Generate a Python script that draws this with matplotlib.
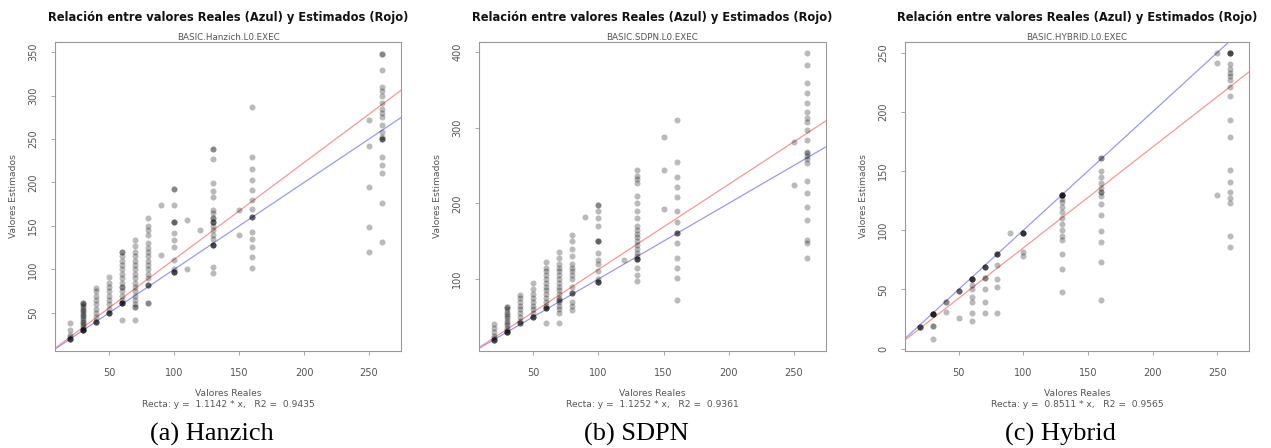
import matplotlib
matplotlib.use("Agg")
import matplotlib.pyplot as plt

# Estimated values grouped by real value (x), one dict per scheduler
hanzich_cols = {
    20: [20, 20, 20, 20, 22, 25, 30, 38],
    30: [30, 30, 30, 30, 30, 32, 34, 36, 38, 40, 42, 44, 46, 48, 50, 52, 54, 56, 58, 60, 62, 62],
    40: [40, 40, 40, 40, 45, 50, 55, 60, 65, 70, 75, 79],
    50: [50, 50, 50, 50, 55, 60, 65, 70, 75, 80, 85, 91],
    60: [42, 61, 61, 61, 61, 61, 65, 70, 75, 80, 80, 85, 90, 95, 100, 105, 110, 115, 120, 120],
    70: [42, 57, 57, 60, 65, 70, 75, 80, 85, 90, 95, 100, 105, 110, 115, 120, 127, 134],
    80: [61, 61, 82, 82, 82, 90, 95, 100, 105, 110, 115, 120, 125, 130, 140, 145, 150, 159],
    90: [117, 174],
    100: [97, 97, 97, 97, 100, 111, 126, 134, 142, 155, 155, 155, 174, 193, 193],
    110: [100, 157],
    120: [145],
    130: [96, 103, 128, 128, 128, 128, 135, 140, 145, 150, 155, 155, 155, 159, 159, 165, 168,
          183, 190, 199, 227, 238, 238],
    150: [140, 168],
    160: [102, 114, 126, 135, 143, 160, 160, 160, 170, 180, 191, 203, 215, 229, 287],
    250: [120, 149, 195, 242, 272],
    260: [132, 176, 211, 220, 229, 250, 250, 250, 252, 258, 266, 275, 280, 285, 291, 300, 305,
          310, 329, 348, 348],
}

sdpn_cols = {
    20: [20, 20, 20, 20, 22, 25, 30, 35, 40],
    30: [30, 30, 30, 30, 30, 33, 36, 39, 42, 45, 48, 51, 54, 57, 60, 63, 63],
    40: [42, 42, 42, 45, 50, 55, 60, 65, 70, 75, 79],
    50: [50, 50, 50, 50, 55, 60, 65, 70, 75, 80, 87, 95],
    60: [42, 62, 62, 62, 62, 65, 70, 75, 80, 85, 90, 95, 100, 105, 110, 115, 122],
    70: [42, 55, 60, 65, 70, 72, 72, 75, 80, 85, 90, 95, 100, 105, 110, 115, 120, 128, 136],
    80: [59, 65, 70, 81, 81, 81, 90, 100, 105, 110, 115, 120, 130, 140, 150, 158],
    90: [182],
    100: [96, 96, 96, 96, 100, 110, 120, 125, 135, 150, 150, 150, 170, 180, 190, 198, 198],
    120: [125],
    130: [97, 106, 115, 126, 126, 126, 126, 130, 135, 140, 145, 150, 155, 160, 165, 170, 180,
          190, 200, 210, 227, 232, 236, 244],
    150: [193, 244, 288],
    160: [72, 102, 115, 128, 147, 161, 161, 161, 175, 190, 208, 221, 235, 255, 310],
    250: [224, 281],
    260: [128, 147, 151, 178, 195, 213, 230, 253, 258, 262, 266, 268, 284, 297, 307, 313, 320,
          333, 346, 359, 383, 399],
}

hybrid_cols = {
    20: [18, 18, 18, 18],
    30: [8, 19, 19, 29, 29, 29, 29, 29, 29],
    40: [31, 39, 39],
    50: [26, 49, 49, 49],
    60: [23, 30, 39, 44, 50, 54, 59, 59, 59, 59, 59],
    70: [30, 39, 50, 60, 60, 69, 69, 69, 69],
    80: [30, 52, 59, 71, 80, 80, 80, 80],
    90: [98],
    100: [78, 82, 98, 98, 98, 98, 98],
    130: [48, 67, 80, 92, 95, 100, 105, 110, 115, 120, 124, 126, 130, 130, 130, 130, 130, 130],
    160: [41, 73, 90, 99, 113, 122, 129, 132, 132, 136, 140, 145, 150, 161, 161],
    250: [130, 241, 250],
    260: [86, 95, 123, 127, 132, 141, 151, 179, 193, 213, 221, 227, 230, 233, 236, 240, 250,
          250, 250, 250],
}

# Fitted slope (y = b * x) and R2 for each scheduler
slopes = [1.1142, 1.1252, 0.8511]
r2_values = [0.9435, 0.9361, 0.9565]
subtitles = ["BASIC.Hanzich.L0.EXEC", "BASIC.SDPN.L0.EXEC", "BASIC.HYBRID.L0.EXEC"]
captions = ["(a) Hanzich", "(b) SDPN", "(c) Hybrid"]
y_ticks = [[50, 100, 150, 200, 250, 300, 350],
           [100, 200, 300, 400],
           [0, 50, 100, 150, 200, 250]]
y_limits = [(6.3, 361.5), (5, 413), (-2, 259)]
x_ticks = [50, 100, 150, 200, 250]
x_limits = (8.5, 274.6)

W, H = 1271, 448
fig = plt.figure(figsize=(W / 100, H / 100), dpi=100)
fig.patch.set_facecolor("white")

axes_left_px = [55, 479, 905]
axes_width_px = [346, 347, 344]
axes_top_px, axes_bottom_px = 42, 351

text_grey = "#555555"
frame_grey = "#999999"
small = 6.6

for i, cols in enumerate([hanzich_cols, sdpn_cols, hybrid_cols]):
    xs, ys = [], []
    for xv, yvals in cols.items():
        xs.extend([xv] * len(yvals))
        ys.extend(yvals)

    left = axes_left_px[i] / W
    width = axes_width_px[i] / W
    bottom = 1 - axes_bottom_px / H
    height = (axes_bottom_px - axes_top_px) / H
    ax = fig.add_axes([left, bottom, width, height])

    ax.scatter(xs, ys, s=19, color="black", alpha=0.27, linewidths=0, zorder=3)
    ax.set_xlim(*x_limits)
    ax.set_ylim(*y_limits[i])

    # Real (y = x) and estimated (y = b x) lines across the full plot region
    line_x = list(x_limits)
    ax.plot(line_x, line_x, color="#9a9aee", lw=0.9, zorder=2)
    ax.plot(line_x, [slopes[i] * v for v in line_x], color="#f29a9a", lw=0.9, zorder=2)

    ax.set_xticks(x_ticks)
    ax.set_yticks(y_ticks[i])
    ax.set_xticklabels([str(t) for t in x_ticks])
    ax.set_yticklabels([str(t) for t in y_ticks[i]], rotation=90, va="center")
    ax.tick_params(axis="both", direction="out", length=3, width=0.6, color=frame_grey,
                   labelsize=7, labelcolor=text_grey)
    ax.tick_params(axis="x", pad=9)
    ax.tick_params(axis="y", pad=9)
    for sp in ax.spines.values():
        sp.set_color(frame_grey)
        sp.set_linewidth(0.8)

    cx_px = axes_left_px[i] + axes_width_px[i] / 2
    cx = cx_px / W
    fig.text(cx, 1 - 18 / H, "Relación entre valores Reales (Azul) y Estimados (Rojo)",
             ha="center", va="center", fontsize=8.3, fontweight="bold", color="#111111")
    fig.text(cx, 1 - 37.5 / H, subtitles[i], ha="center", va="center",
             fontsize=6.3, color=text_grey)
    fig.text(cx, 1 - 393 / H, "Valores Reales", ha="center", va="center",
             fontsize=small, color=text_grey)
    fig.text(cx, 1 - 404 / H,
             f"Recta: y =  {slopes[i]:.4f} * x,   R2 =  {r2_values[i]:.4f}",
             ha="center", va="center", fontsize=small, color=text_grey)
    fig.text((axes_left_px[i] - 42) / W, 1 - 196.5 / H, "Valores Estimados", rotation=90,
             ha="center", va="center", fontsize=small, color=text_grey)
    fig.text((212 + 424 * i) / W, 1 - 434 / H, captions[i], ha="center", va="center",
             fontsize=19, family="Liberation Serif", color="black")

fig.savefig("out.png", dpi=100, facecolor="white")
